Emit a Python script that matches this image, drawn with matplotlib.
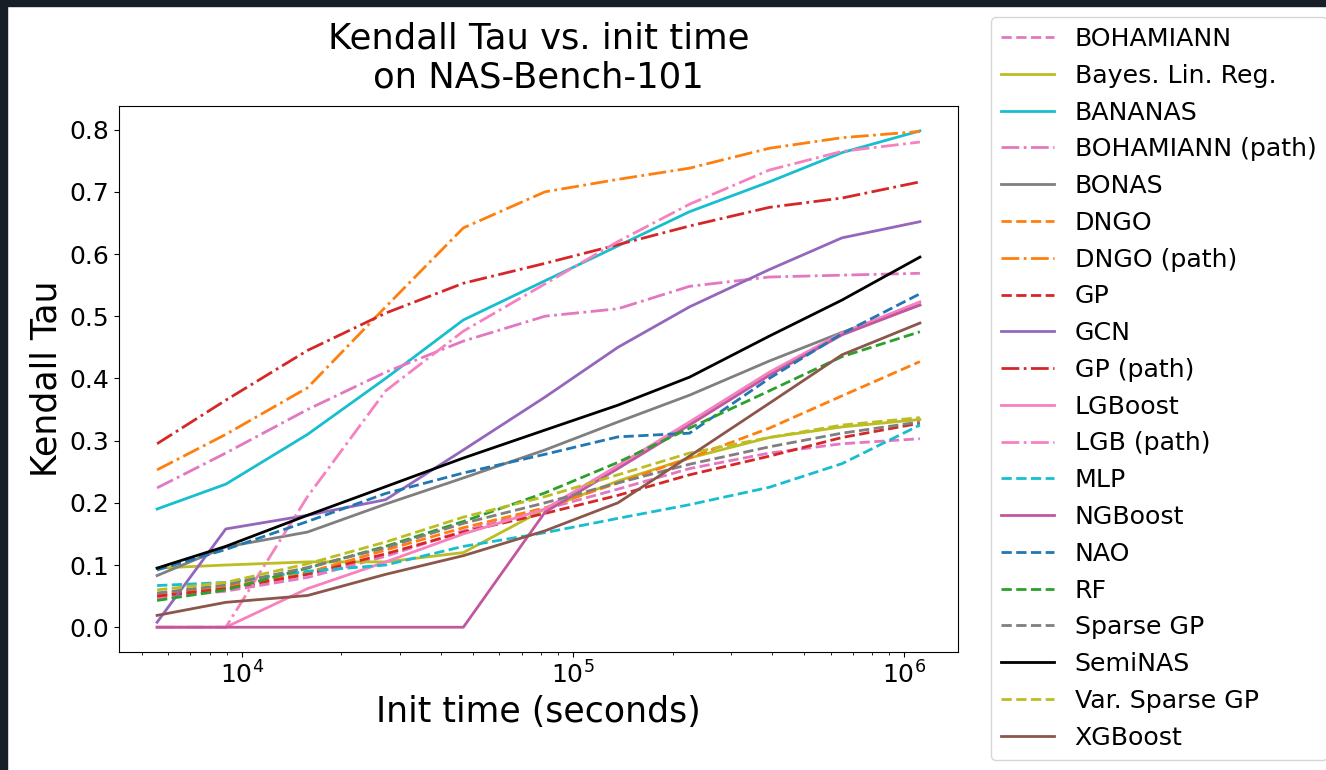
#!/usr/bin/env python3
# -*- coding: utf-8 -*-
"""
Kendall Tau vs. initialisation time for the NAS-Bench-101 predictors.

Draws one line per performance predictor on a log-scaled time axis and
puts the legend to the right of the axes.
"""

import matplotlib
matplotlib.use("Agg")
import matplotlib.pyplot as plt
from matplotlib.patches import Rectangle

# ============== DATA ============== #
# Init time (seconds) of each evaluation point
INIT_TIME = [5550, 8950, 15800, 27200, 46700, 82400,
             136800, 225000, 392000, 650000, 1117000]

BOHAMIANN = [0.047, 0.058, 0.080, 0.114, 0.155, 0.190, 0.222, 0.255, 0.280, 0.295, 0.303]
BAYES_LIN_REG = [0.095, 0.100, 0.105, 0.105, 0.120, 0.190, 0.235, 0.272, 0.305, 0.322, 0.334]
BANANAS = [0.190, 0.230, 0.310, 0.400, 0.494, 0.557, 0.613, 0.668, 0.716, 0.763, 0.798]
BOHAMIANN_PATH = [0.224, 0.280, 0.350, 0.410, 0.460, 0.500, 0.512, 0.548, 0.563, 0.566, 0.569]
BONAS = [0.083, 0.129, 0.153, 0.198, 0.240, 0.285, 0.330, 0.373, 0.428, 0.474, 0.518]
DNGO = [0.052, 0.065, 0.088, 0.124, 0.160, 0.192, 0.232, 0.272, 0.320, 0.372, 0.427]
DNGO_PATH = [0.253, 0.310, 0.385, 0.515, 0.642, 0.700, 0.720, 0.738, 0.770, 0.787, 0.797]
GP = [0.050, 0.062, 0.085, 0.118, 0.153, 0.183, 0.212, 0.245, 0.275, 0.305, 0.328]
GCN = [0.008, 0.158, 0.180, 0.205, 0.285, 0.370, 0.450, 0.515, 0.575, 0.626, 0.652]
GP_PATH = [0.295, 0.365, 0.445, 0.505, 0.553, 0.585, 0.615, 0.645, 0.675, 0.690, 0.716]
LGBOOST = [0.0, 0.0, 0.062, 0.105, 0.150, 0.190, 0.260, 0.330, 0.410, 0.473, 0.523]
LGB_PATH = [0.0, 0.0, 0.210, 0.380, 0.476, 0.552, 0.620, 0.680, 0.735, 0.765, 0.780]
MLP = [0.067, 0.072, 0.090, 0.100, 0.130, 0.152, 0.175, 0.197, 0.225, 0.263, 0.325]
NGBOOST = [0.0, 0.0, 0.0, 0.0, 0.0, 0.185, 0.255, 0.325, 0.405, 0.470, 0.518]
NAO = [0.092, 0.125, 0.170, 0.215, 0.248, 0.278, 0.306, 0.312, 0.400, 0.472, 0.536]
RF = [0.043, 0.060, 0.095, 0.130, 0.170, 0.216, 0.265, 0.320, 0.380, 0.435, 0.475]
SPARSE_GP = [0.055, 0.068, 0.096, 0.128, 0.167, 0.200, 0.232, 0.262, 0.290, 0.312, 0.330]
SEMINAS = [0.095, 0.130, 0.180, 0.226, 0.272, 0.317, 0.357, 0.402, 0.468, 0.526, 0.595]
VAR_SPARSE_GP = [0.060, 0.072, 0.102, 0.137, 0.177, 0.210, 0.245, 0.280, 0.305, 0.325, 0.337]
XGBOOST = [0.019, 0.040, 0.051, 0.085, 0.115, 0.155, 0.200, 0.275, 0.360, 0.438, 0.489]

# (label, values, colour, linestyle) in legend order
SERIES = [
    ("BOHAMIANN", BOHAMIANN, "#e377c2", "--"),
    ("Bayes. Lin. Reg.", BAYES_LIN_REG, "#bcbd22", "-"),
    ("BANANAS", BANANAS, "#17becf", "-"),
    ("BOHAMIANN (path)", BOHAMIANN_PATH, "#e377c2", "-."),
    ("BONAS", BONAS, "#7f7f7f", "-"),
    ("DNGO", DNGO, "#ff7f0e", "--"),
    ("DNGO (path)", DNGO_PATH, "#ff7f0e", "-."),
    ("GP", GP, "#d62728", "--"),
    ("GCN", GCN, "#9467bd", "-"),
    ("GP (path)", GP_PATH, "#d62728", "-."),
    ("LGBoost", LGBOOST, "#f781bf", "-"),
    ("LGB (path)", LGB_PATH, "#f781bf", "-."),
    ("MLP", MLP, "#17becf", "--"),
    ("NGBoost", NGBOOST, "#c1579f", "-"),
    ("NAO", NAO, "#1f77b4", "--"),
    ("RF", RF, "#2ca02c", "--"),
    ("Sparse GP", SPARSE_GP, "#7f7f7f", "--"),
    ("SemiNAS", SEMINAS, "#000000", "-"),
    ("Var. Sparse GP", VAR_SPARSE_GP, "#bcbd22", "--"),
    ("XGBoost", XGBOOST, "#8c564b", "-"),
]
# ================================== #


def main() -> None:
    fig = plt.figure(figsize=(13.26, 7.70), dpi=100)
    ax = fig.add_axes([0.0897, 0.1532, 0.6328, 0.7091])

    for label, values, color, ls in SERIES:
        ax.plot(INIT_TIME, values, color=color, linestyle=ls, linewidth=2.0,
                label=label)

    ax.set_xscale("log")
    ax.set_title("Kendall Tau vs. init time\non NAS-Bench-101", fontsize=25.5,
                 pad=13)
    ax.set_xlabel("Init time (seconds)", fontsize=25)
    ax.set_ylabel("Kendall Tau", fontsize=25)
    ax.tick_params(axis="both", which="major", labelsize=18)

    ax.legend(loc="upper left", bbox_to_anchor=(0.7475, 0.978),
              bbox_transform=fig.transFigure, fontsize=18.2,
              labelspacing=0.505, borderaxespad=0.0, handlelength=2.1)

    # dark strip along the top and left edge of the canvas
    fig.patches.append(Rectangle((0, 1 - 6 / 770), 1, 6 / 770,
                                 transform=fig.transFigure,
                                 color="#181e28", zorder=0))
    fig.patches.append(Rectangle((0, 0), 7 / 1326, 1,
                                 transform=fig.transFigure,
                                 color="#181e28", zorder=0))

    fig.savefig("out.png", dpi=100)


if __name__ == "__main__":
    main()
